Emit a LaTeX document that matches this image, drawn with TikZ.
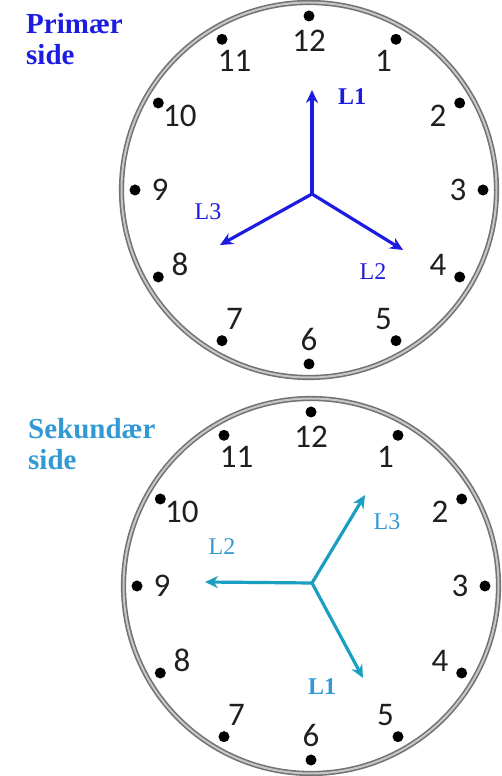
\documentclass[tikz,border=0pt]{standalone}
\usepackage{fontspec}
\setmainfont{Liberation Serif}
\newfontfamily\clockfont{Carlito}
\usetikzlibrary{arrows.meta, calc}
\definecolor{primblue}{HTML}{1C1CE0}
\definecolor{sekarrow}{HTML}{1A9EC2}
\definecolor{sektext}{HTML}{3399D4}

\tikzset{
  rim/.style={draw=black!55, double=black!22, double distance=2pt, line width=1.6pt},
  hourdot/.style={circle, fill=black, inner sep=0pt, minimum size=11pt},
  hournum/.style={font=\clockfont\fontsize{33}{33}\selectfont, text=black!88, inner sep=0pt},
  phase/.style={line width=3.2pt, line join=round, -{Stealth[length=13pt, width=12pt]}},
  sidetitle/.style={anchor=north west, align=left, inner sep=0pt, font=\bfseries\fontsize{29}{31}\selectfont},
  phaselbl/.style={inner sep=0pt, font=\fontsize{24}{24}\selectfont},
}

\begin{document}
\begin{tikzpicture}[x=1pt, y=1pt]
  \useasboundingbox (0,0) rectangle (502,776);

  % primær side
  \coordinate (p) at (309,586);
  \draw[rim] (p) circle [radius=187.5];
  \foreach \h in {1,...,12} {
    \node[hourdot] (pdot\h) at ($(p)+(90-30*\h:174)$) {};
    \node[hournum] (pnum\h) at ($(p)+(90-30*\h:149)$) {\h};
  }
  \node[sidetitle, text=primblue] (ptitle) at (26,763) {Primær\\side};

  \coordinate (pc) at (312,582);
  \coordinate (pL1) at (312,686);
  \coordinate (pL2) at (403,526);
  \coordinate (pL3) at (220,531);
  \draw[phase, primblue] (pc) -- (pL1);
  \draw[phase, primblue] (pc) -- (pL2);
  \draw[phase, primblue] (pc) -- (pL3);
  \node[phaselbl, text=primblue, font=\bfseries\fontsize{24}{24}\selectfont] (plbl1) at (352,679) {L1};
  \node[phaselbl, text=primblue] (plbl2) at (373,504) {L2};
  \node[phaselbl, text=primblue] (plbl3) at (208,564) {L3};

  % sekundær side
  \coordinate (s) at (311,190);
  \draw[rim] (s) circle [radius=187.5];
  \foreach \h in {1,...,12} {
    \node[hourdot] (sdot\h) at ($(s)+(90-30*\h:174)$) {};
    \node[hournum] (snum\h) at ($(s)+(90-30*\h:149)$) {\h};
  }
  \node[sidetitle, text=sektext] (stitle) at (28,358) {Sekundær\\side};

  \coordinate (sc) at (312,193);
  \coordinate (sL1) at (363,98);
  \coordinate (sL2) at (205,194);
  \coordinate (sL3) at (365,281);
  \draw[phase, sekarrow] (sc) -- (sL1);
  \draw[phase, sekarrow] (sc) -- (sL2);
  \draw[phase, sekarrow] (sc) -- (sL3);
  \node[phaselbl, text=sektext, font=\bfseries\fontsize{24}{24}\selectfont] (slbl1) at (322,89) {L1};
  \node[phaselbl, text=sektext] (slbl2) at (222,229) {L2};
  \node[phaselbl, text=sektext] (slbl3) at (387,254) {L3};
\end{tikzpicture}
\end{document}
